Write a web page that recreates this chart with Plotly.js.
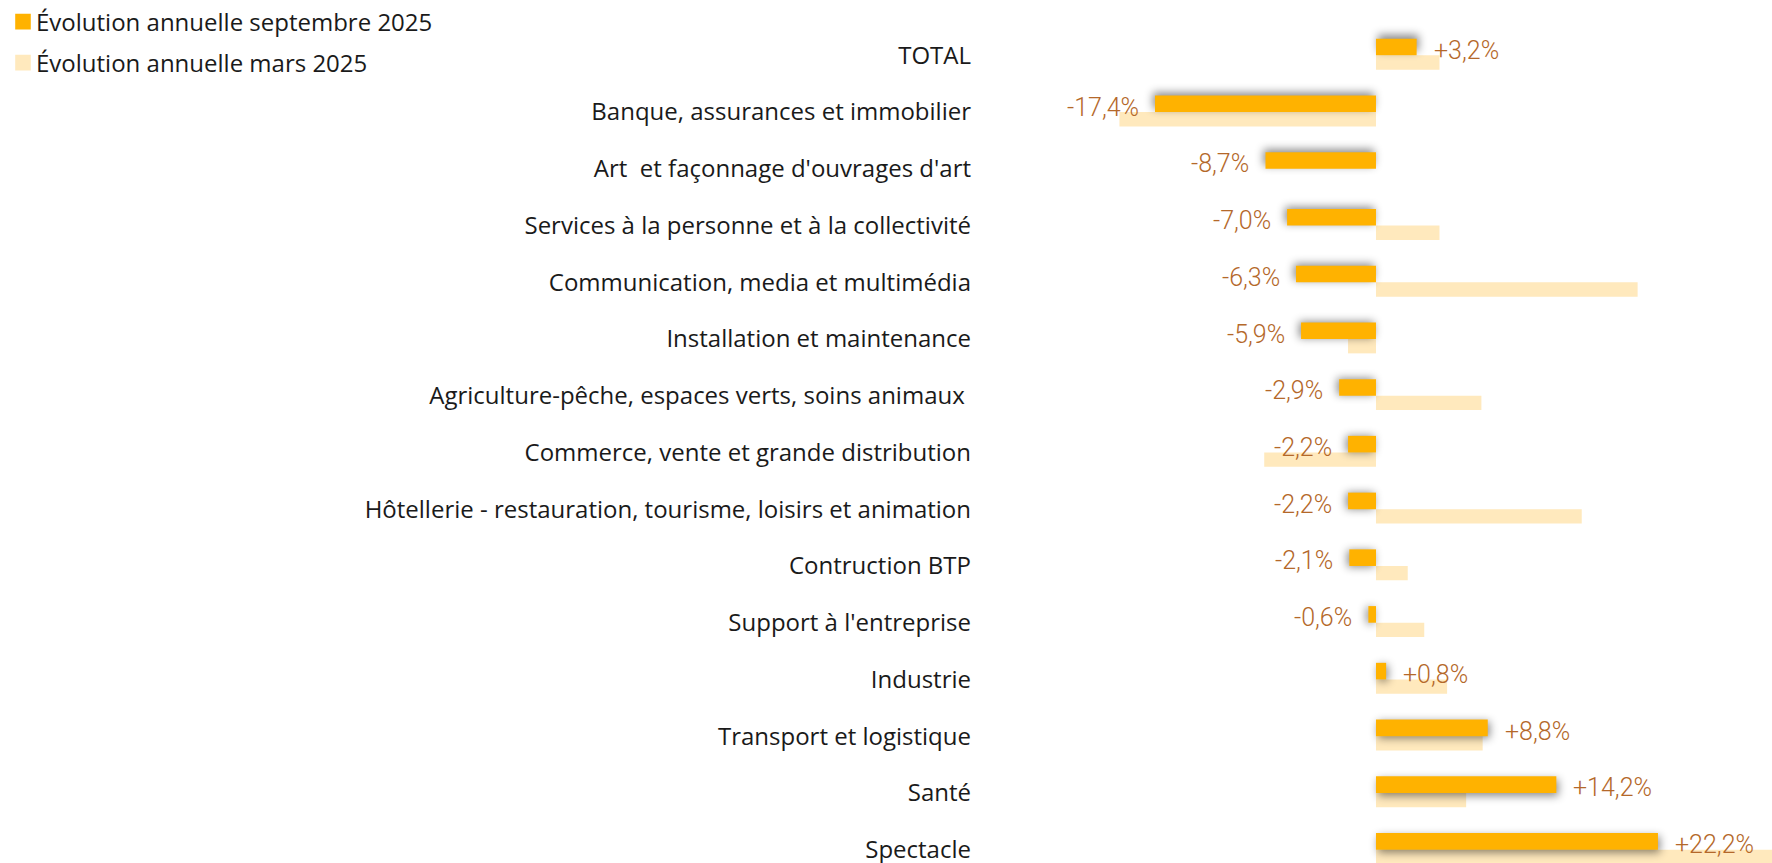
<!DOCTYPE html>
<html>
<head>
<meta charset="utf-8">
<script src="https://cdn.plot.ly/plotly-3.0.1.min.js"></script>
<style>
html,body{margin:0;padding:0;background:#fff;}
#chart{width:1772px;height:863px;}
</style>
</head>
<body>
<div id="chart"></div>
<script>
const categories = [
  "TOTAL",
  "Banque, assurances et immobilier",
  "Art  et façonnage d'ouvrages d'art",
  "Services à la personne et à la collectivité",
  "Communication, media et multimédia",
  "Installation et maintenance",
  "Agriculture-pêche, espaces verts, soins animaux ",
  "Commerce, vente et grande distribution",
  "Hôtellerie - restauration, tourisme, loisirs et animation",
  "Contruction BTP",
  "Support à l'entreprise",
  "Industrie",
  "Transport et logistique",
  "Santé",
  "Spectacle"
];
const septValues = [3.2, -17.4, -8.7, -7.0, -6.3, -5.9, -2.9, -2.2, -2.2, -2.1, -0.6, 0.8, 8.8, 14.2, 22.2];
const marsValues = [5.0, -20.2, null, 5.0, 20.6, -2.2, 8.3, -8.8, 16.2, 2.5, 3.8, 5.6, 8.4, 7.1, 32.0];
const seriesNames = ["Évolution annuelle septembre 2025", "Évolution annuelle mars 2025"];

function fmt(v){ return (v > 0 ? "+" : "") + v.toFixed(1).replace(".", ",") + "%"; }

const labelFont = {family: "Roboto, sans-serif", size: 25, color: "#B4682A", weight: 300};
const annotations = septValues.map((v, i) => ({
  x: v, y: categories[i], xref: "x", yref: "y",
  text: fmt(v), showarrow: false,
  xanchor: v >= 0 ? "left" : "right",
  xshift: v >= 0 ? 15 : -14,
  yshift: 5,
  font: labelFont
}));

const traceMars = {
  type: "bar", orientation: "h",
  y: categories, x: marsValues,
  name: seriesNames[1],
  marker: {color: "#FFE9BD"},
  width: 0.253, offset: 0.0,
  legend: "legend2",
  hoverinfo: "x+y"
};
const traceSept = {
  type: "bar", orientation: "h",
  y: categories, x: septValues,
  name: seriesNames[0],
  marker: {color: "#FFB200"},
  width: 0.293, offset: -0.293,
  legend: "legend",
  hoverinfo: "x+y"
};

const L = 982, PW = 1772 - 982;
const legX = (-4 - L) / PW;
const legendFont = {family: "'Open Sans', sans-serif", size: 24, color: "#1a1a1a"};
const layout = {
  width: 1772, height: 863,
  margin: {l: L, r: 0, t: 0, b: 0, pad: 0, autoexpand: false},
  paper_bgcolor: "#fff", plot_bgcolor: "#fff",
  barmode: "overlay",
  showlegend: true,
  legend: {xref: "paper", yref: "container", x: legX, y: 1 - 22/863, xanchor: "left", yanchor: "middle",
           font: legendFont, bgcolor: "rgba(0,0,0,0)", borderwidth: 0},
  legend2: {xref: "paper", yref: "container", x: legX, y: 1 - 63/863, xanchor: "left", yanchor: "middle",
           font: legendFont, bgcolor: "rgba(0,0,0,0)", borderwidth: 0},
  xaxis: {range: [-31.02, 31.18], showgrid: false, zeroline: false, showticklabels: false, showline: false, fixedrange: true},
  yaxis: {type: "category", categoryorder: "array", categoryarray: categories,
          range: [14.235, -0.975], showgrid: false, zeroline: false, showline: false, ticks: "",
          ticklabelstandoff: 10, automargin: false,
          tickfont: {family: "'Open Sans', sans-serif", size: 24, color: "#1a1a1a"}, fixedrange: true},
  annotations: annotations
};

Plotly.newPlot("chart", [traceMars, traceSept], layout, {displayModeBar: false, staticPlot: true}).then(() => {
  const traces = document.querySelectorAll("#chart .barlayer .trace.bars");
  if (traces.length > 1) {
    const paths = traces[1].querySelectorAll("path");
    paths.forEach((p, i) => {
      const v = septValues[i];
      const dy = (i - 7) * 0.5;
      const dx = v >= 0 ? 2 : -2;
      p.style.filter = "drop-shadow(" + dx + "px " + dy + "px 4px rgba(0,0,0,0.45))";
    });
  }
  document.querySelectorAll("#chart .legendpoints path").forEach(p => {
    const t = p.getAttribute("transform") || "";
    p.setAttribute("transform", t + " translate(7,0) scale(1.3)");
  });
});
</script>
</body>
</html>
